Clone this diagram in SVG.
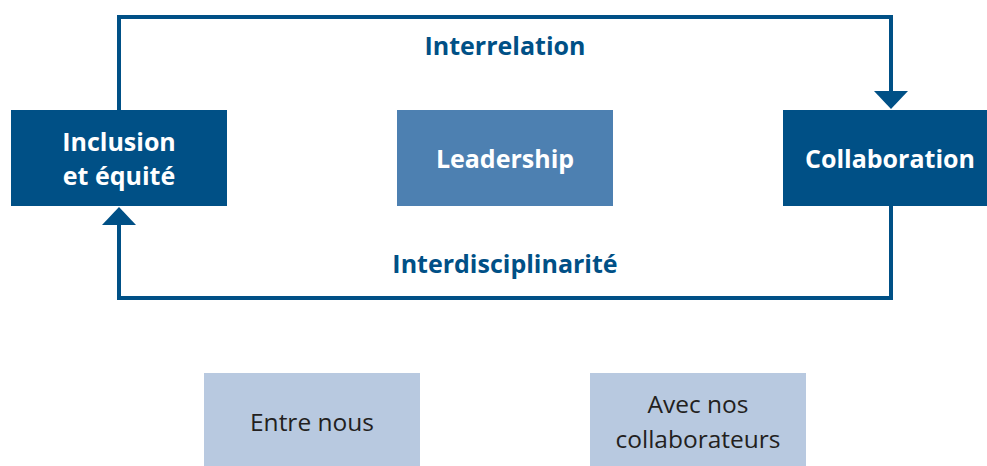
<svg xmlns="http://www.w3.org/2000/svg" width="987" height="466" viewBox="0 0 987 466">
  <defs>
    <style>
      .dark { fill: #005086; }
      .mid { fill: #4d80b1; }
      .light { fill: #b8c9e0; }
      .bold { font-family: "Open Sans", "Liberation Sans", sans-serif; font-weight: 700; font-size: 25px; }
      .white { fill: #ffffff; }
      .label { fill: #005086; }
      .reg { font-family: "Open Sans", "Liberation Sans", sans-serif; font-weight: 400; font-size: 24.5px; fill: #231f20; }
      .wire { fill: none; stroke: #005086; stroke-width: 4; }
    </style>
    <!-- triangular head, attached at its base -->
    <marker id="arrow" viewBox="0 0 18 34" refX="0" refY="17" markerWidth="18" markerHeight="34" markerUnits="userSpaceOnUse" orient="auto">
      <path d="M0,0 L18,17 L0,34 Z" fill="#005086"/>
    </marker>
  </defs>

  <!-- connectors -->
  <g id="connectors">
    <path class="wire" d="M119,110 V17 H891 V91" marker-end="url(#arrow)"/>
    <path class="wire" d="M891,206 V298 H119 V225" marker-end="url(#arrow)"/>
    <text class="bold label" x="505" y="55" text-anchor="middle">Interrelation</text>
    <text class="bold label" x="505" y="273" text-anchor="middle">Interdisciplinarité</text>
  </g>

  <!-- nodes -->
  <g id="inclusion">
    <rect class="dark" x="11" y="110" width="216" height="96"/>
    <text class="bold white" x="119" y="151" text-anchor="middle">Inclusion</text>
    <text class="bold white" x="119" y="185" text-anchor="middle">et équité</text>
  </g>
  <g id="leadership">
    <rect class="mid" x="397" y="110" width="216" height="96"/>
    <text class="bold white" x="505" y="168" text-anchor="middle">Leadership</text>
  </g>
  <g id="collaboration">
    <rect class="dark" x="783" y="110" width="204" height="96"/>
    <text class="bold white" x="890" y="168" text-anchor="middle">Collaboration</text>
  </g>
  <g id="entre-nous">
    <rect class="light" x="204" y="373" width="216" height="93"/>
    <text class="reg" x="312" y="431" text-anchor="middle">Entre nous</text>
  </g>
  <g id="avec-collaborateurs">
    <rect class="light" x="590" y="373" width="216" height="93"/>
    <text class="reg" x="698" y="413" text-anchor="middle">Avec nos</text>
    <text class="reg" x="698" y="448" text-anchor="middle">collaborateurs</text>
  </g>
</svg>
